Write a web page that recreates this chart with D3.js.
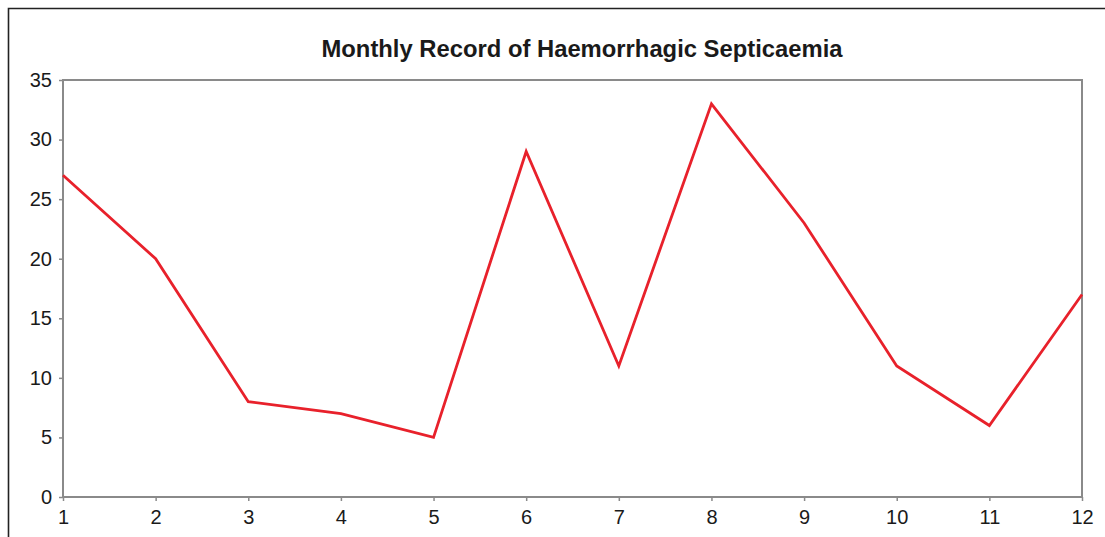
<!DOCTYPE html>
<html>
<head>
<meta charset="utf-8">
<script src="https://cdn.jsdelivr.net/npm/d3@7"></script>
<style>
  body { margin: 0; background: #fff; }
  svg { display: block; }
</style>
</head>
<body>
<svg id="chart" width="1105" height="537"></svg>
<script>
// monthly counts
const months = [1, 2, 3, 4, 5, 6, 7, 8, 9, 10, 11, 12];
const cases = [27, 20, 8, 7, 5, 29, 11, 33, 23, 11, 6, 17];
const yTicks = [0, 5, 10, 15, 20, 25, 30, 35];
const title = 'Monthly Record of Haemorrhagic Septicaemia';

const plot = { left: 63, right: 1082, top: 80, bottom: 497 };

const svg = d3.select('#chart');

// outer frame (only top and left edges show)
svg.append('path')
  .attr('d', 'M8.5,537 L8.5,8.5 L1105,8.5')
  .attr('fill', 'none')
  .attr('stroke', '#222')
  .attr('stroke-width', 1.6);

const x = d3.scaleLinear().domain([1, 12]).range([plot.left, plot.right]);
const y = d3.scaleLinear().domain([0, 35]).range([plot.bottom, plot.top]);

svg.append('text')
  .attr('x', 582)
  .attr('y', 57)
  .attr('text-anchor', 'middle')
  .attr('font-family', 'Liberation Sans, Arial, sans-serif')
  .attr('font-weight', 'bold')
  .attr('font-size', 23.8)
  .attr('fill', '#1a1a1a')
  .text(title);

// plot area border
svg.append('rect')
  .attr('x', plot.left)
  .attr('y', plot.top)
  .attr('width', plot.right - plot.left)
  .attr('height', plot.bottom - plot.top)
  .attr('fill', 'none')
  .attr('stroke', '#8a8a8a')
  .attr('stroke-width', 2);

const yAxis = svg.append('g')
  .attr('transform', `translate(${plot.left},0)`)
  .call(d3.axisLeft(y).tickValues(yTicks).tickSize(4).tickPadding(7));

const xAxis = svg.append('g')
  .attr('transform', `translate(0,${plot.bottom})`)
  .call(d3.axisBottom(x).tickValues(months).tickSize(4).tickPadding(9));

[yAxis, xAxis].forEach(g => {
  g.select('.domain').remove();
  g.selectAll('line').attr('stroke', '#8a8a8a').attr('stroke-width', 1.5);
  g.selectAll('text')
    .attr('font-family', 'Liberation Sans, Arial, sans-serif')
    .attr('font-size', 20)
    .attr('fill', '#1a1a1a');
});

const line = d3.line()
  .x((d, i) => x(months[i]))
  .y(d => y(d));

svg.append('path')
  .datum(cases)
  .attr('d', line)
  .attr('fill', 'none')
  .attr('stroke', '#e8212b')
  .attr('stroke-width', 2.8)
  .attr('stroke-linejoin', 'miter');
</script>
</body>
</html>
